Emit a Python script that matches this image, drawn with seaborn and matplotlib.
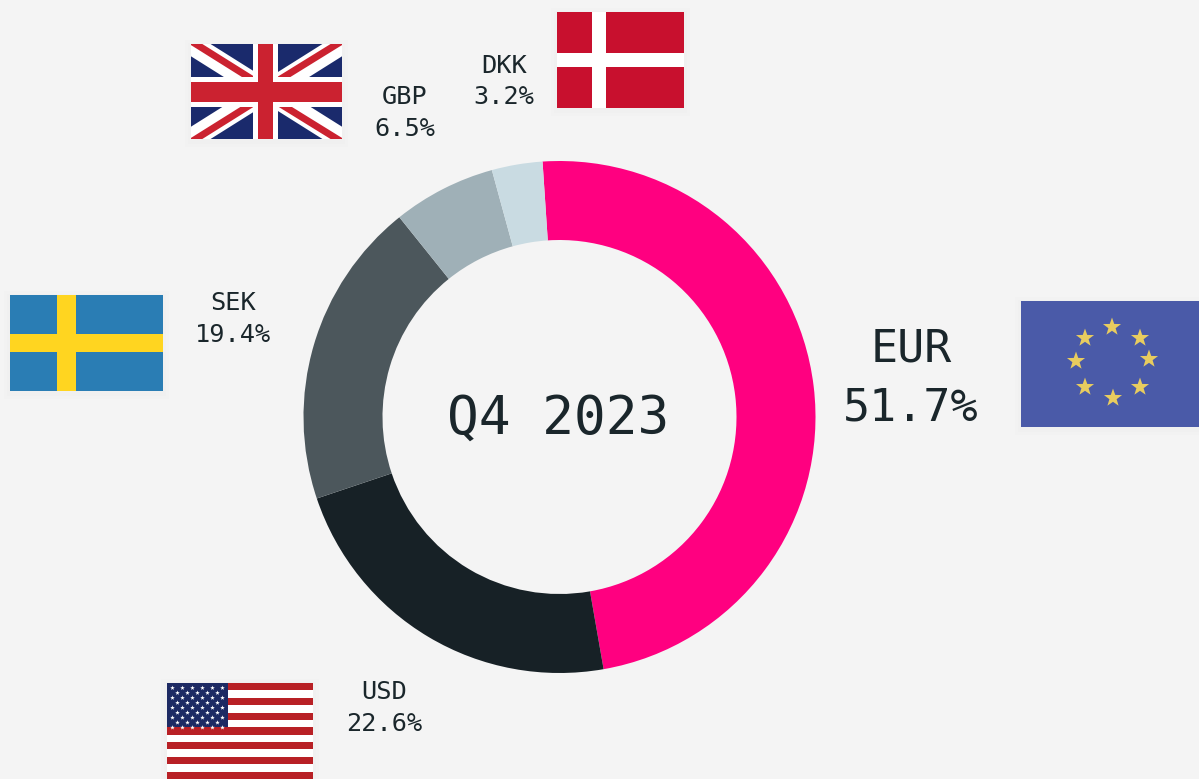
import numpy as np
import pandas as pd
import matplotlib
matplotlib.use('Agg')
import matplotlib.pyplot as plt
from matplotlib.patches import Rectangle, Polygon
import seaborn as sns

currencies = ["EUR", "USD", "SEK", "GBP", "DKK"]
# the EUR slice is drawn smaller than its label says, so both are kept
slice_values = [48.3, 22.6, 19.4, 6.5, 3.2]
label_values = [51.7, 22.6, 19.4, 6.5, 3.2]
center_title = "Q4 2023"

BG = "#F4F4F4"
INK = "#1A262B"
slice_colors = sns.color_palette(["#FF0080", "#172126", "#4C575C", "#9FB0B7", "#C9DBE2"])

sns.set_theme(style="white", rc={"figure.facecolor": BG, "axes.facecolor": BG})
plt.rcParams['font.family'] = ['DejaVu Sans Mono']

H = 779
fig = plt.figure(figsize=(11.99, 7.79), dpi=100)
ax = fig.add_axes([0, 0, 1, 1])

df = pd.DataFrame({"currency": currencies, "slice": slice_values, "label": label_values})

# donut
ax.pie(df["slice"], colors=slice_colors, startangle=93.8, counterclock=False,
       center=(559.5, H - 417), radius=256,
       wedgeprops={"width": 79, "linewidth": 0})
ax.set_xlim(0, 1199)
ax.set_ylim(0, H)
ax.set_aspect("equal")
ax.axis("off")


def rect(x0, y0, x1, y1, color, clip=None, z=3, **kw):
    # pixel coords, y measured from the top
    r = Rectangle((x0, H - y1), x1 - x0, y1 - y0, facecolor=color, edgecolor="none", zorder=z, **kw)
    ax.add_patch(r)
    if clip is not None:
        r.set_clip_path(clip)
    return r


def shadow(x0, y0, x1, y1):
    for pad in [6, 3]:
        rect(x0 - pad, y0 - pad + 2, x1 + pad, y1 + pad + 2, "black", z=2, alpha=0.008)


def star(cx, cy, size, color, z=5):
    ang = np.pi / 2 + np.arange(10) * np.pi / 5
    rad = np.where(np.arange(10) % 2 == 0, size, size * 0.4)
    pts = np.column_stack([cx + rad * np.cos(ang), H - cy + rad * np.sin(ang)])
    ax.add_patch(Polygon(pts, facecolor=color, edgecolor="none", zorder=z))


# Denmark
shadow(557, 12, 684, 108)
rect(557, 12, 684, 108, "#C8102E")
rect(592, 12, 606, 108, "white", z=4)
rect(557, 53, 684, 67, "white", z=4)

# Sweden
shadow(10, 295, 163, 391)
rect(10, 295, 163, 391, "#2A7DB4")
rect(57, 295, 76, 391, "#FFD520", z=4)
rect(10, 334, 163, 352, "#FFD520", z=4)

# EU
shadow(1021, 301, 1199, 427)
rect(1021, 301, 1199, 427, "#4A5AA8")
for sx, sy in [(1112, 327), (1140, 338), (1149, 359), (1140, 387),
               (1113, 398), (1085, 387), (1076, 361), (1085, 338)]:
    star(sx, sy, 9.5, "#E8CC5F")

# UK
shadow(191, 44, 342, 139)
uk = rect(191, 44, 342, 139, "#1A2A6C")
for (xa, ya, xb, yb) in [(191, 44, 342, 139), (191, 139, 342, 44)]:
    line, = ax.plot([xa, xb], [H - ya, H - yb], color="white", lw=15, zorder=4, solid_capstyle="butt")
    line.set_clip_path(uk)
for (xa, ya, xb, yb) in [(191, 41, 266, 88), (266, 95, 342, 142), (191, 142, 266, 95), (266, 88, 342, 41)]:
    line, = ax.plot([xa, xb], [H - ya, H - yb], color="#CB2230", lw=5, zorder=5, solid_capstyle="butt")
    line.set_clip_path(uk)
rect(253, 44, 278, 139, "white", z=6)
rect(191, 77, 342, 107, "white", z=6)
rect(258, 44, 273, 139, "#CB2230", z=7)
rect(191, 82, 342, 102, "#CB2230", z=7)

# USA
rect(167, 683, 313, 779, "white")
shadow(167, 683, 313, 779)
stripe_h = 96 / 13
for i in range(0, 13, 2):
    rect(167, 683 + i * stripe_h, 313, 683 + (i + 1) * stripe_h, "#B82025", z=4)
rect(167, 683, 228, 683 + 6 * stripe_h, "#1D2A63", z=5)
for row in range(9):
    cols = 6 if row % 2 == 0 else 5
    off = 0 if row % 2 == 0 else 5
    for c in range(cols):
        star(172.5 + off + c * 10, 688 + row * 4.95, 2.4, "white", z=6)

# labels: (x, y of currency, y of percent, font size in pt)
label_pos = {
    "EUR": (911, 349, 408, 32.4),
    "USD": (384, 692, 724, 18.2),
    "SEK": (233, 303, 335, 18.2),
    "GBP": (405, 97, 129, 18.2),
    "DKK": (504, 66, 97, 18.2),
}
for _, r in df.iterrows():
    x, y_name, y_pct, fs = label_pos[r["currency"]]
    ax.text(x, H - y_name, r["currency"], ha="center", va="center", fontsize=fs, color=INK, zorder=8)
    ax.text(x, H - y_pct, f'{r["label"]:.1f}%', ha="center", va="center", fontsize=fs, color=INK, zorder=8)

ax.text(558, H - 419, center_title, ha="center", va="center", fontsize=38, color=INK, zorder=8)

fig.savefig("out.png", dpi=100, facecolor=BG)
plt.close(fig)
